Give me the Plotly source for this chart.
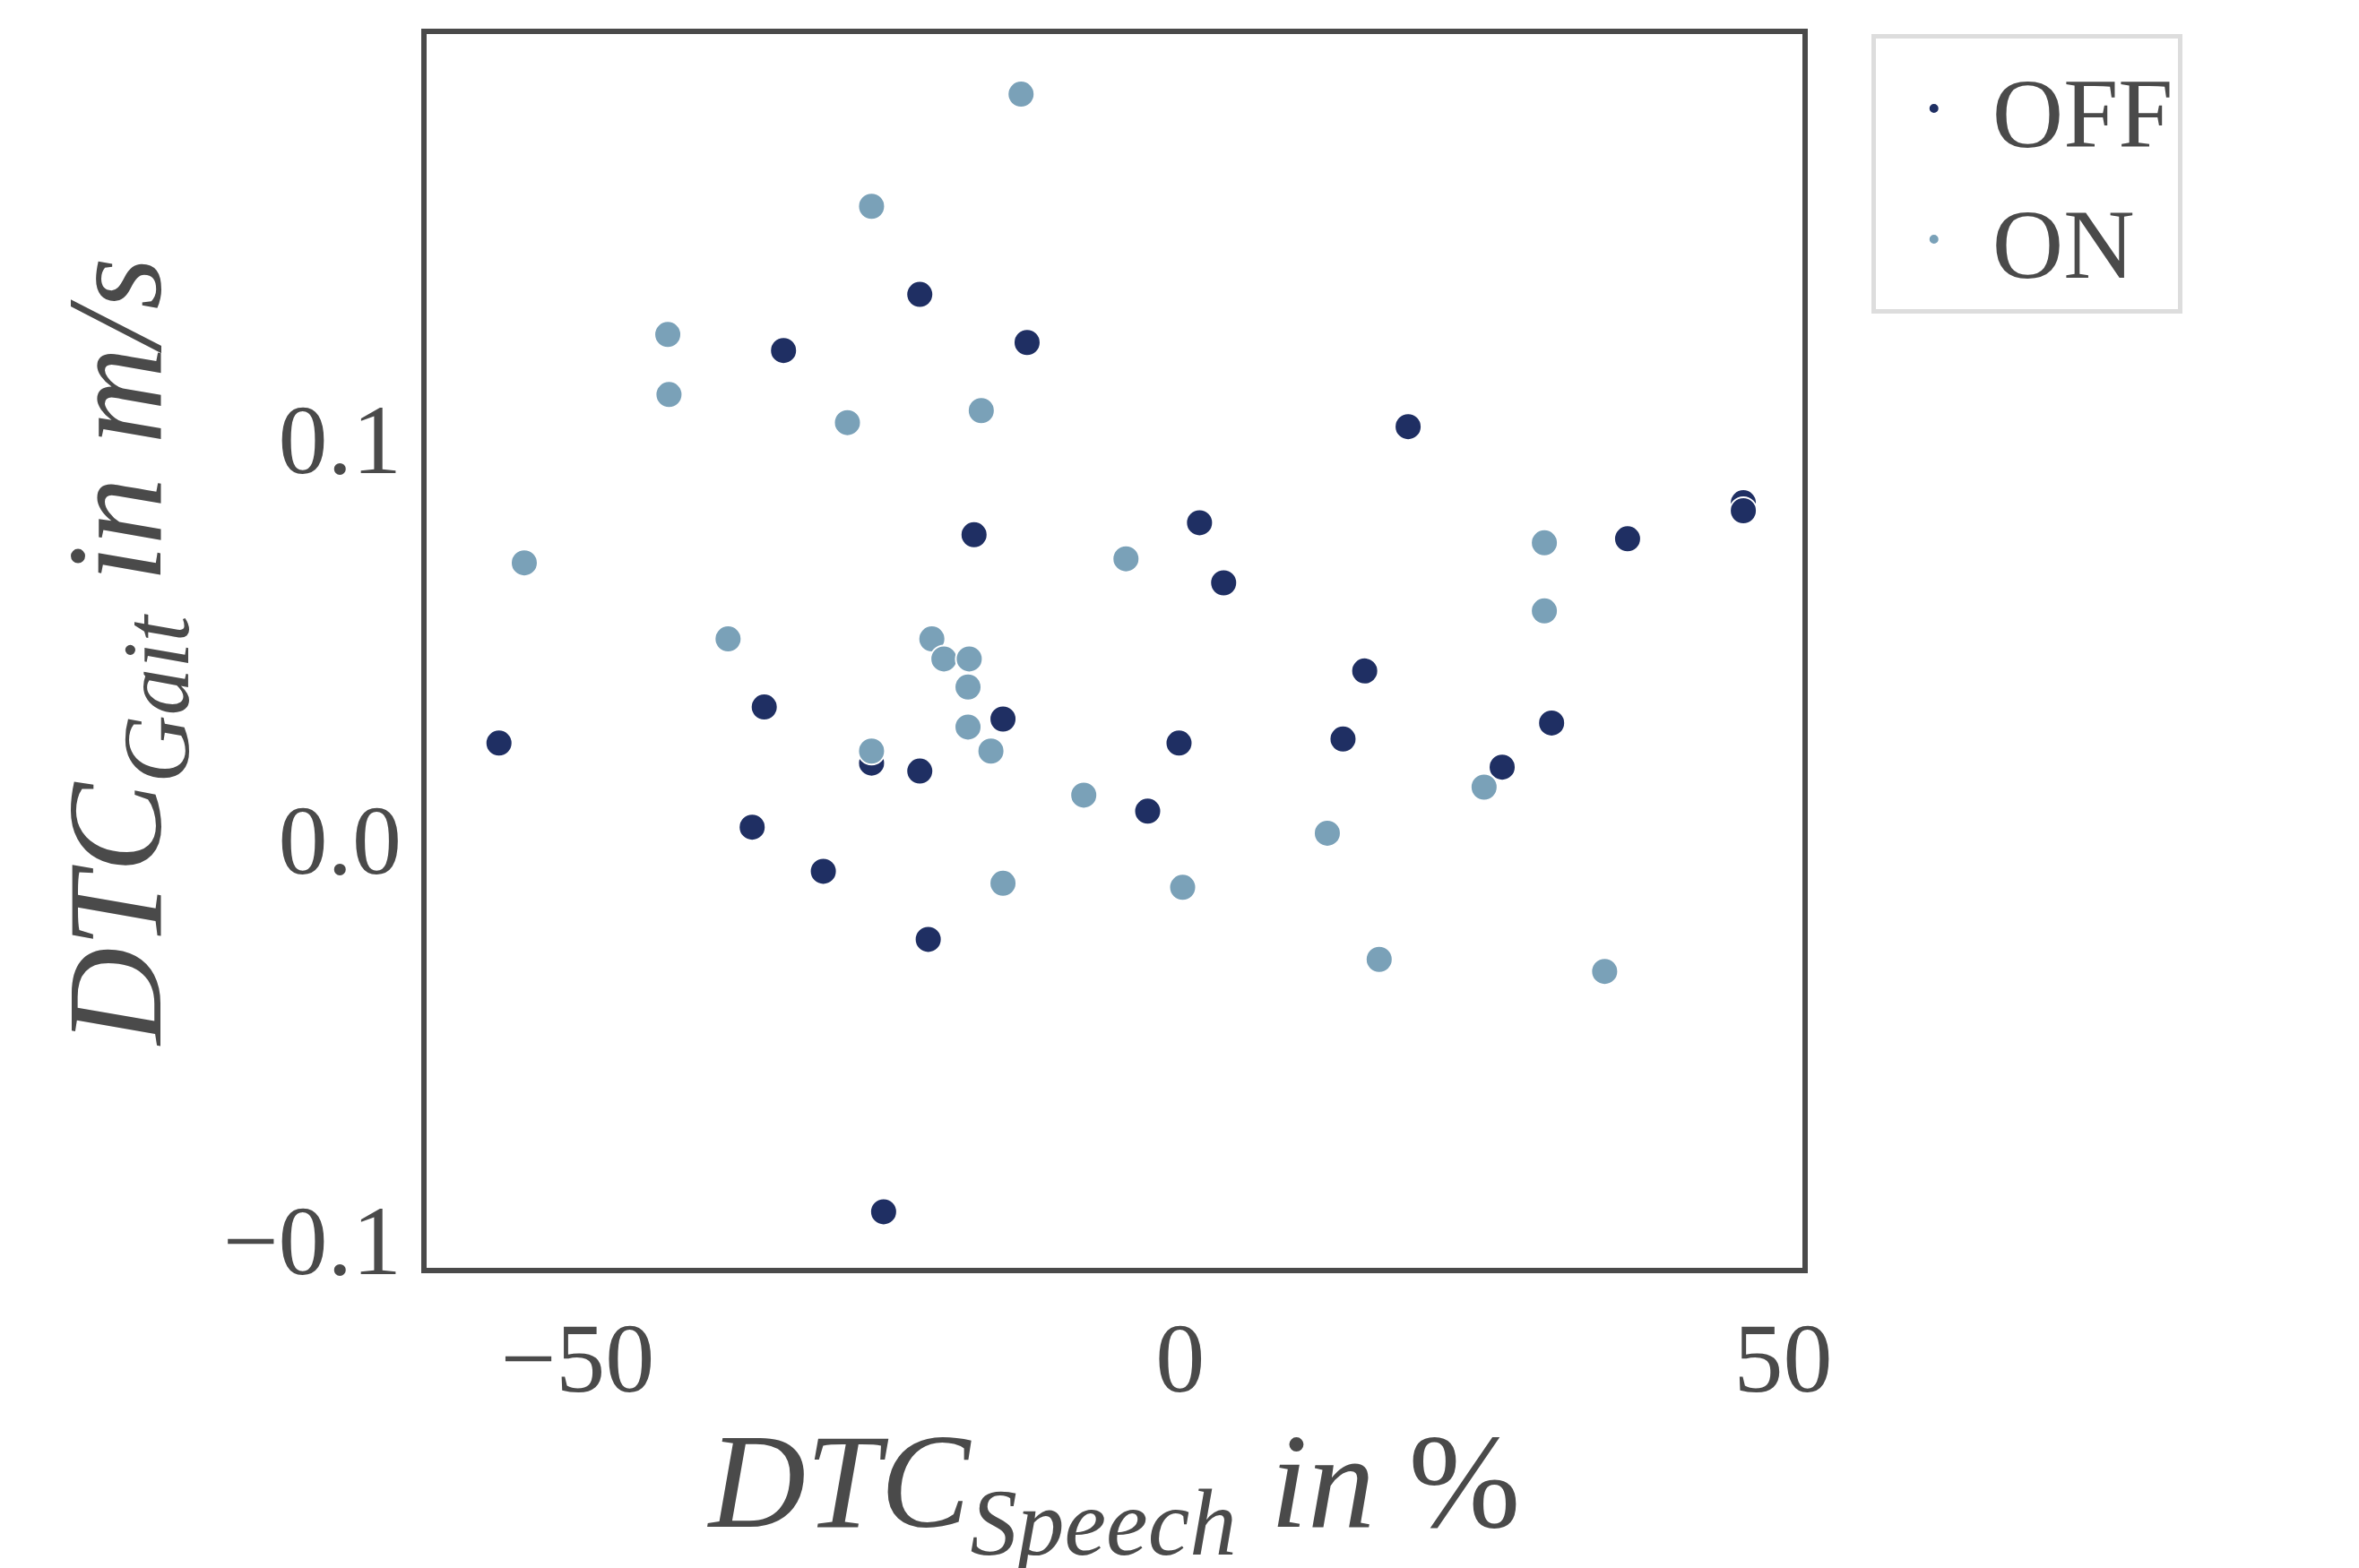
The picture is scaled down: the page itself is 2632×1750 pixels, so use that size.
import plotly.graph_objects as go

# OFF condition
off_x = [-56.5, -32.9, -21.6, -12.7, -34.5, -35.5, -29.6, -25.6, -21.6, -20.9, -24.6, -17.1, -14.7,
         -2.7, -0.1, 1.6, 3.6, 15.3, 13.5, 18.9, 26.7, 30.8, 37.1, 46.7, 46.7]
off_y = [0.024, 0.122, 0.136, 0.124, 0.033, 0.003, -0.008, 0.019, 0.017, -0.025, -0.093, 0.076, 0.030,
         0.007, 0.024, 0.079, 0.064, 0.042, 0.025, 0.103, 0.018, 0.029, 0.075, 0.084, 0.082]
# ON condition
on_x = [-54.4, -42.5, -42.4, -37.5, -27.6, -25.6, -25.6, -20.6, -19.6, -17.6, -17.5, -17.6, -15.7,
        -16.5, -13.2, -14.7, -8.0, -4.5, 0.2, 12.2, 16.5, 25.2, 30.2, 30.2, 35.2]
on_y = [0.069, 0.126, 0.111, 0.050, 0.104, 0.158, 0.022, 0.050, 0.045, 0.038, 0.045, 0.028, 0.022,
        0.107, 0.186, -0.011, 0.011, 0.070, -0.012, 0.0015, -0.030, 0.013, 0.074, 0.057, -0.033]

font = "Liberation Serif"
grey = "#4a4a4a"

fig = go.Figure()
fig.add_trace(go.Scatter(x=off_x, y=off_y, mode="markers", name="OFF",
                         marker=dict(color="#1f2f63", size=30, line=dict(color="white", width=2))))
fig.add_trace(go.Scatter(x=on_x, y=on_y, mode="markers", name="ON",
                         marker=dict(color="#7aa1b8", size=30, line=dict(color="white", width=2))))

fig.update_layout(
    width=2632, height=1750, plot_bgcolor="white", paper_bgcolor="white",
    margin=dict(l=468, r=629, t=30, b=343),
    font=dict(family=font, color=grey, size=110),
    legend=dict(x=1.05, y=1.0, xanchor="left", yanchor="top", bordercolor="#dddddd", borderwidth=5,
                font=dict(size=110), itemsizing="constant", itemwidth=120, tracegroupgap=10),
)
fig.update_xaxes(range=[-62.5, 51.6], tickvals=[-50, 0, 50], ticktext=["\u221250", "0", "50"],
                 showgrid=False, zeroline=False, showline=True, linecolor=grey, linewidth=6, mirror=True,
                 ticks="", title=dict(text="<i>DTC<sub>Speech</sub> in </i>%", font=dict(size=150), standoff=20))
fig.update_yaxes(range=[-0.107, 0.201], tickvals=[-0.1, 0.0, 0.1], ticktext=["\u22120.1", "0.0", "0.1"],
                 showgrid=False, zeroline=False, showline=True, linecolor=grey, linewidth=6, mirror=True,
                 ticks="", title=dict(text="<i>DTC<sub>Gait</sub> in m/s</i>", font=dict(size=150), standoff=20))

fig.write_html("out.html")
